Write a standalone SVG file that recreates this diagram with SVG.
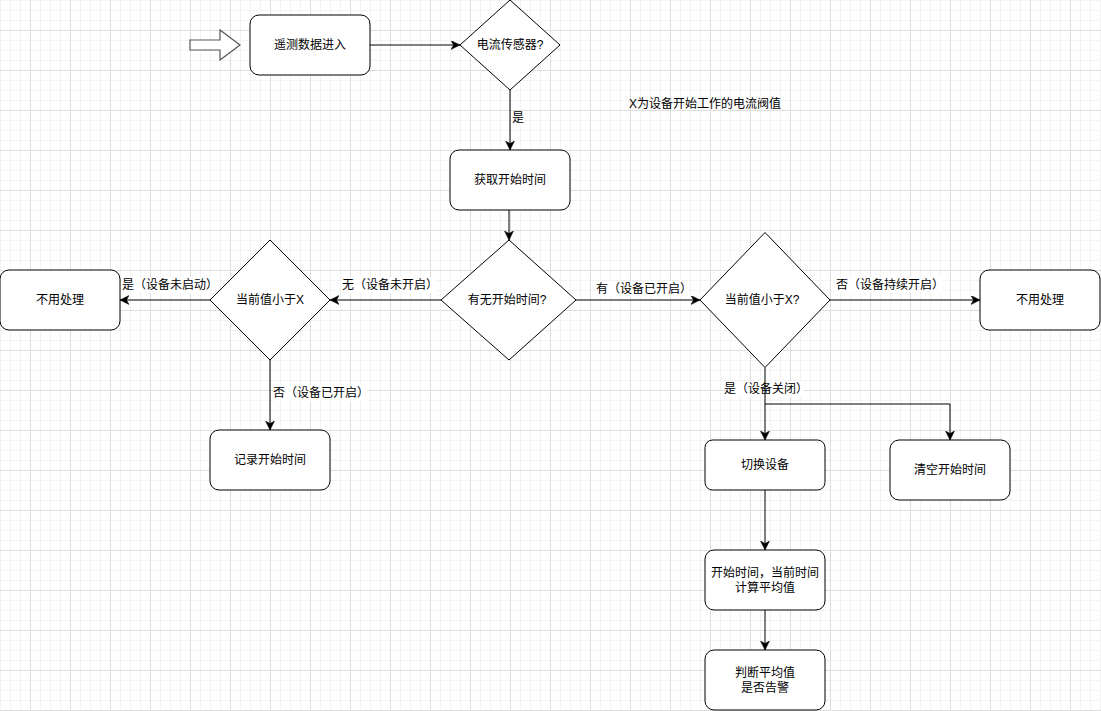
<svg xmlns="http://www.w3.org/2000/svg" width="1101" height="711" viewBox="0 0 1101 711">
<style>
.n{fill:#fff;stroke:#000;stroke-width:1}
.t{font-family:"Liberation Sans","Noto Sans CJK SC",sans-serif;font-size:12px;fill:#000;text-anchor:middle;dominant-baseline:central}
.e{fill:none;stroke:#000;stroke-width:1}
.lb{fill:#fff}
</style>
<defs>
<pattern id="grid" x="30" y="30" width="40" height="40" patternUnits="userSpaceOnUse">
<rect x="0" y="0" width="40" height="40" fill="#fff"/>
<rect x="10" y="0" width="1" height="40" fill="#f3f3f3"/>
<rect x="20" y="0" width="1" height="40" fill="#f3f3f3"/>
<rect x="30" y="0" width="1" height="40" fill="#f3f3f3"/>
<rect x="0" y="10" width="40" height="1" fill="#f3f3f3"/>
<rect x="0" y="20" width="40" height="1" fill="#f3f3f3"/>
<rect x="0" y="30" width="40" height="1" fill="#f3f3f3"/>
<rect x="0" y="0" width="1" height="40" fill="#dedede"/>
<rect x="0" y="0" width="40" height="1" fill="#dedede"/>
</pattern>
<marker id="arr" markerUnits="userSpaceOnUse" markerWidth="12" markerHeight="10" refX="9" refY="4.5" orient="auto">
<path d="M0,0 L9,4.5 L0,9 L2.5,4.5 Z" fill="#000" stroke="#000" stroke-width="0.5"/>
</marker>
</defs>
<rect x="0" y="0" width="1101" height="711" fill="url(#grid)"/>

<g id="connectors">
<rect class="lb" x="513" y="111" width="12" height="15"/>
<rect class="lb" x="122" y="277" width="94" height="16"/>
<rect class="lb" x="342" y="277" width="94" height="16"/>
<rect class="lb" x="597" y="281" width="92" height="16"/>
<rect class="lb" x="835" y="277" width="108" height="16"/>
<rect class="lb" x="274" y="385" width="94" height="16"/>
<rect class="lb" x="726" y="381" width="78" height="16"/>
<path class="e" d="M370,45 L460,45" marker-end="url(#arr)"/>
<path class="e" d="M510,90 L510,150" marker-end="url(#arr)"/>
<path class="e" d="M509,210 L509,240" marker-end="url(#arr)"/>
<path class="e" d="M441,300 L330,300" marker-end="url(#arr)"/>
<path class="e" d="M210,300 L120,300" marker-end="url(#arr)"/>
<path class="e" d="M270,360 L270,430" marker-end="url(#arr)"/>
<path class="e" d="M576,300 L700,300" marker-end="url(#arr)"/>
<path class="e" d="M830,300 L980,300" marker-end="url(#arr)"/>
<path class="e" d="M765,367.5 L765,440" marker-end="url(#arr)"/>
<path class="e" d="M765,404 L950,404 L950,440" marker-end="url(#arr)"/>
<path class="e" d="M765,490 L765,550" marker-end="url(#arr)"/>
<path class="e" d="M765,610 L765,650" marker-end="url(#arr)"/>
<text class="t" x="518" y="118">是</text>
<text class="t" x="170" y="285">是（设备未启动）</text>
<text class="t" x="390" y="285">无（设备未开启）</text>
<text class="t" x="644" y="289">有（设备已开启）</text>
<text class="t" x="890" y="285">否（设备持续开启）</text>
<text class="t" x="321" y="393">否（设备已开启）</text>
<text class="t" x="766" y="389">是（设备关闭）</text>
</g>

<g id="start-arrow">
<polygon points="190,40 220,40 220,30 240,45 220,60 220,50 190,50" fill="#fff" stroke="#555" stroke-width="1.2"/>
</g>
<g id="n-telemetry">
<rect class="n" x="250" y="15" width="120" height="60" rx="9"/>
<text class="t" x="310" y="45">遥测数据进入</text>
</g>
<g id="n-sensor">
<polygon class="n" points="510,0 560,45 510,90 460,45"/>
<text class="t" x="510" y="45">电流传感器?</text>
</g>
<g id="n-note">
<text class="t" x="705" y="104">X为设备开始工作的电流阀值</text>
</g>
<g id="n-gettime">
<rect class="n" x="450" y="150" width="120" height="60" rx="9"/>
<text class="t" x="510" y="180">获取开始时间</text>
</g>
<g id="n-hastime">
<polygon class="n" points="509,240 576,300 509,360 441,300"/>
<text class="t" x="507" y="300">有无开始时间?</text>
</g>
<g id="n-leftcmp">
<polygon class="n" points="270,240 330,300 270,360 210,300"/>
<text class="t" x="270" y="300">当前值小于X</text>
</g>
<g id="n-leftnone">
<rect class="n" x="0" y="270" width="120" height="60" rx="9"/>
<text class="t" x="60" y="300">不用处理</text>
</g>
<g id="n-record">
<rect class="n" x="210" y="430" width="120" height="60" rx="9"/>
<text class="t" x="270" y="460">记录开始时间</text>
</g>
<g id="n-rightcmp">
<polygon class="n" points="765,232.5 830,300 765,367.5 700,300"/>
<text class="t" x="762" y="300">当前值小于X?</text>
</g>
<g id="n-rightnone">
<rect class="n" x="980" y="270" width="120" height="60" rx="9"/>
<text class="t" x="1040" y="300">不用处理</text>
</g>
<g id="n-switch">
<rect class="n" x="705" y="440" width="120" height="50" rx="7.5"/>
<text class="t" x="765" y="465">切换设备</text>
</g>
<g id="n-clear">
<rect class="n" x="890" y="440" width="120" height="60" rx="9"/>
<text class="t" x="950" y="470">清空开始时间</text>
</g>
<g id="n-avg">
<rect class="n" x="705" y="550" width="120" height="60" rx="9"/>
<text class="t" x="765" y="572.5">开始时间，当前时间</text>
<text class="t" x="765" y="587.5">计算平均值</text>
</g>
<g id="n-alarm">
<rect class="n" x="705" y="650" width="120" height="60" rx="9"/>
<text class="t" x="765" y="672.5">判断平均值</text>
<text class="t" x="765" y="687.5">是否告警</text>
</g>
</svg>
